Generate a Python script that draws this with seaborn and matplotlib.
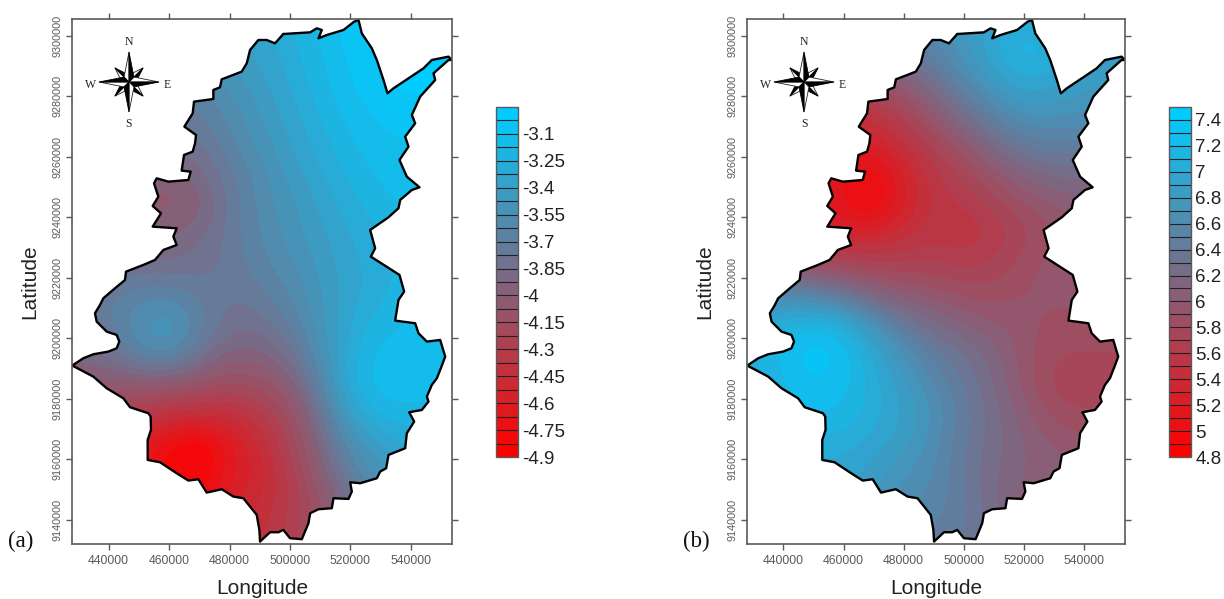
import numpy as np
import seaborn as sns
import matplotlib
matplotlib.use('Agg')
import matplotlib.pyplot as plt
from matplotlib.colors import ListedColormap, BoundaryNorm
from matplotlib.patches import Polygon
from matplotlib.cm import ScalarMappable

# Boundary of the study area
border_lon = [497800, 495070, 492300, 489550, 486800, 485700, 484030, 477420, 476860, 474660,
              474660, 468260, 467820, 465060, 468920, 468600, 467820, 464950, 464180, 467160,
              466390, 459770, 455910, 455030, 456460, 454590, 457340, 454590, 462530, 461420,
              462530, 458120, 455360, 451500, 445760, 445430, 442120, 438260,
              437160, 435500, 436060, 439370, 442670, 443550, 442670, 439920, 434950, 431640,
              428000, 434950, 439370, 444880, 447090, 453150, 453920, 454030, 452930, 452930,
              457010, 462530, 466390, 469700, 472450, 477420, 481280, 484590, 489000, 489880,
              490100, 493410, 496170, 497820, 500030,
              503920, 506120, 506680, 509430, 513840, 514400, 519360, 520460, 519910, 523220,
              528740, 529840, 531820, 532600, 538110, 538660, 541090, 539430, 543620, 545830,
              545280, 546930, 548590, 549910, 551350, 549690, 545280, 542520, 541420, 534800,
              535900, 537780, 536230, 526750, 528180, 526530, 532590, 535900, 536460, 540320,
              542850, 538660, 536230, 539210, 538110, 541420, 540320, 543070, 548040, 547490,
              552450, 553550, 552450, 546930, 544180, 534250, 532270, 530940, 528740, 527080,
              523770, 522670, 521230, 517700, 512190, 509430, 510540, 508880, 506680, 497800]
border_lat = [9300640, 9297560, 9298660, 9298660, 9295350, 9290940, 9288190, 9285650, 9283010, 9282130,
              9279150, 9278270, 9274410, 9270000, 9267250, 9264500, 9261740, 9260640, 9255460, 9255130,
              9252370, 9251820, 9252920, 9251270, 9246860, 9243780, 9241350, 9236940, 9236390, 9233640,
              9230880, 9229230, 9225930, 9224280, 9222070, 9219310, 9216560, 9213250,
              9211050, 9208290, 9205540, 9202230, 9201130, 9198930, 9196720, 9195620, 9194740, 9193420,
              9191000, 9187350, 9183500, 9180190, 9177220, 9175230, 9174130, 9169730, 9166420, 9159800,
              9159030, 9155400, 9152970, 9153410, 9149000, 9150110, 9147680, 9147130, 9141620, 9136660,
              9132800, 9135890, 9135890, 9136660, 9133910,
              9133580, 9138870, 9142170, 9143490, 9143830, 9147130, 9146910, 9149340, 9152420, 9152090,
              9153740, 9155950, 9157050, 9161460, 9163660, 9168620, 9172480, 9175560, 9176330, 9179090,
              9180740, 9184600, 9186800, 9190110, 9193970, 9199480, 9198930, 9201680, 9204990, 9205870,
              9212700, 9215460, 9220970, 9227030, 9229780, 9235840, 9240030, 9243010, 9245760, 9249070,
              9249950, 9253470, 9258980, 9263390, 9266700, 9271110, 9273860, 9279920, 9285430, 9287640,
              9292040, 9292040, 9293150, 9292040, 9289290, 9282680, 9281030, 9285430, 9292040, 9295900,
              9300860, 9305270, 9304720, 9301960, 9300310, 9299210, 9301960, 9302520, 9301190, 9300640]

# Sampled surface values, 10 km spacing: lon 430000..550000, lat 9305000 down to 9135000
values_a = [
    [-3.75, -3.7, -3.65, -3.6, -3.55, -3.45, -3.35, -3.25, -3.15, -3.05, -3.0, -3.0, -3.0],
    [-3.8, -3.75, -3.7, -3.65, -3.55, -3.45, -3.38, -3.28, -3.18, -3.08, -3.0, -3.0, -3.0],
    [-3.85, -3.8, -3.75, -3.7, -3.62, -3.52, -3.42, -3.32, -3.2, -3.1, -3.02, -3.0, -3.0],
    [-3.9, -3.85, -3.8, -3.78, -3.7, -3.6, -3.47, -3.36, -3.24, -3.14, -3.08, -3.05, -3.05],
    [-3.95, -3.9, -3.88, -3.85, -3.78, -3.65, -3.52, -3.4, -3.28, -3.18, -3.12, -3.1, -3.1],
    [-4.0, -3.98, -3.95, -3.97, -3.88, -3.72, -3.58, -3.45, -3.33, -3.23, -3.15, -3.12, -3.12],
    [-4.0, -4.0, -4.0, -4.05, -3.98, -3.76, -3.6, -3.5, -3.38, -3.27, -3.2, -3.15, -3.15],
    [-3.95, -3.95, -3.95, -3.95, -3.88, -3.75, -3.62, -3.52, -3.42, -3.32, -3.25, -3.2, -3.2],
    [-3.85, -3.85, -3.85, -3.85, -3.82, -3.75, -3.65, -3.57, -3.45, -3.35, -3.28, -3.22, -3.2],
    [-3.8, -3.72, -3.65, -3.65, -3.72, -3.78, -3.72, -3.62, -3.48, -3.36, -3.27, -3.2, -3.18],
    [-3.8, -3.7, -3.55, -3.45, -3.65, -3.82, -3.82, -3.7, -3.5, -3.32, -3.2, -3.17, -3.15],
    [-3.9, -3.82, -3.62, -3.55, -3.78, -3.95, -3.95, -3.82, -3.55, -3.28, -3.14, -3.13, -3.13],
    [-4.0, -4.05, -4.05, -4.05, -4.1, -4.15, -4.12, -4.0, -3.65, -3.25, -3.12, -3.13, -3.14],
    [-4.15, -4.2, -4.3, -4.38, -4.42, -4.42, -4.32, -4.15, -3.8, -3.38, -3.2, -3.2, -3.2],
    [-4.3, -4.4, -4.6, -4.78, -4.88, -4.65, -4.45, -4.22, -3.92, -3.55, -3.4, -3.3, -3.3],
    [-4.4, -4.5, -4.65, -4.8, -4.88, -4.62, -4.5, -4.3, -4.0, -3.7, -3.5, -3.4, -3.4],
    [-4.4, -4.5, -4.65, -4.7, -4.7, -4.55, -4.45, -4.3, -4.1, -3.85, -3.6, -3.5, -3.5],
    [-4.4, -4.45, -4.55, -4.55, -4.55, -4.5, -4.38, -4.28, -4.12, -3.95, -3.7, -3.6, -3.6],
]
values_b = [
    [6.4, 6.4, 6.4, 6.4, 6.5, 6.6, 6.7, 6.8, 6.95, 7.05, 7.0, 6.9, 6.85],
    [6.2, 6.2, 6.2, 6.2, 6.25, 6.4, 6.55, 6.75, 7.0, 7.2, 7.1, 7.0, 6.9],
    [6.0, 6.0, 6.0, 5.9, 5.9, 6.05, 6.3, 6.6, 6.85, 7.0, 6.95, 6.85, 6.8],
    [5.8, 5.7, 5.6, 5.5, 5.55, 5.75, 6.0, 6.3, 6.55, 6.75, 6.75, 6.7, 6.65],
    [5.6, 5.45, 5.4, 5.25, 5.3, 5.5, 5.75, 6.0, 6.25, 6.45, 6.5, 6.5, 6.45],
    [5.45, 5.35, 5.3, 5.1, 5.0, 5.3, 5.55, 5.75, 5.95, 6.15, 6.25, 6.25, 6.2],
    [5.45, 5.35, 5.3, 5.05, 4.9, 5.25, 5.55, 5.6, 5.75, 5.9, 6.0, 6.05, 6.05],
    [5.55, 5.45, 5.4, 5.3, 5.3, 5.45, 5.55, 5.5, 5.6, 5.75, 5.9, 6.0, 6.0],
    [5.9, 5.85, 5.8, 5.75, 5.7, 5.7, 5.7, 5.65, 5.7, 5.85, 5.95, 6.0, 6.0],
    [6.5, 6.6, 6.5, 6.3, 6.1, 6.0, 5.95, 5.85, 5.85, 5.9, 5.95, 5.95, 5.95],
    [7.0, 7.1, 7.2, 7.1, 6.7, 6.4, 6.2, 6.1, 6.0, 5.95, 5.85, 5.85, 5.85],
    [7.1, 7.25, 7.4, 7.3, 7.0, 6.7, 6.45, 6.3, 6.15, 5.95, 5.8, 5.8, 5.8],
    [7.0, 7.2, 7.3, 7.25, 7.05, 6.85, 6.6, 6.4, 6.2, 5.95, 5.75, 5.7, 5.75],
    [6.9, 7.15, 7.2, 7.2, 7.05, 6.9, 6.7, 6.45, 6.25, 6.05, 5.85, 5.8, 5.85],
    [6.8, 7.0, 7.05, 7.05, 6.95, 6.85, 6.65, 6.4, 6.25, 6.1, 6.0, 5.95, 5.9],
    [6.7, 6.9, 6.95, 6.95, 6.85, 6.7, 6.6, 6.4, 6.2, 6.1, 6.05, 6.0, 6.0],
    [6.6, 6.8, 6.85, 6.85, 6.75, 6.65, 6.55, 6.45, 6.2, 6.05, 6.0, 6.0, 6.0],
    [6.5, 6.7, 6.75, 6.75, 6.65, 6.55, 6.45, 6.4, 6.3, 6.0, 6.0, 6.0, 6.0],
]

lon_ticks = [440000, 460000, 480000, 500000, 520000, 540000]
lat_ticks = [9140000, 9160000, 9180000, 9200000, 9220000, 9240000, 9260000, 9280000, 9300000]
cbar_ticks_a = [-4.9, -4.75, -4.6, -4.45, -4.3, -4.15, -4, -3.85, -3.7, -3.55, -3.4, -3.25, -3.1]
cbar_ticks_b = [4.8, 5, 5.2, 5.4, 5.6, 5.8, 6, 6.2, 6.4, 6.6, 6.8, 7, 7.2, 7.4]

W, H = 1224, 599
sns.set_style('white')
plt.rcParams['font.family'] = ['Liberation Sans', 'DejaVu Sans']
SERIF = 'Liberation Serif'
GREY = '#5a5a5a'

fig = plt.figure(figsize=(W / 100, H / 100), dpi=100)


def box(x0, y0, x1, y1):
    # pixel box (y from the top) to figure fractions
    return [x0 / W, 1 - y1 / H, (x1 - x0) / W, (y1 - y0) / H]


def draw_rose(x, y):
    # compass rose centred on pixel x, y
    rose = fig.add_axes(box(x - 50, y - 50, x + 50, y + 50))
    rose.set_xlim(-50, 50)
    rose.set_ylim(-50, 50)
    rose.axis('off')
    for deg, length in [(45, 20), (135, 20), (225, 20), (315, 20), (0, 30), (90, 30), (180, 30), (270, 30)]:
        a = np.radians(deg)
        tip = (length * np.cos(a), length * np.sin(a))
        side1 = (7 * np.cos(a + 0.785), 7 * np.sin(a + 0.785))
        side2 = (7 * np.cos(a - 0.785), 7 * np.sin(a - 0.785))
        rose.add_patch(Polygon([(0, 0), tip, side1], fc='white', ec='#222222', lw=0.6))
        rose.add_patch(Polygon([(0, 0), tip, side2], fc='black', ec='black', lw=0.6))
    for label, lx, ly in [('N', 0, 40), ('S', 0, -42), ('W', -38, -3), ('E', 38, -3)]:
        rose.text(lx, ly, label, family=SERIF, fontsize=8.5, color='#222222', ha='center', va='center')


def draw_panel(left, right, cbar_left, values, levels, ticks, letter, letter_x):
    ax = fig.add_axes(box(left, 19, right, 544))
    colors = sns.blend_palette(['#ff0000', '#00ccff'], len(levels) - 1)
    cmap = ListedColormap(colors)
    norm = BoundaryNorm(levels, cmap.N, clip=True)
    im = ax.imshow(values, extent=(425000, 555000, 9130000, 9310000), origin='upper', aspect='auto',
                   cmap=cmap, norm=norm, interpolation='bicubic', interpolation_stage='data')
    outline = Polygon(np.column_stack([border_lon, border_lat]), transform=ax.transData)
    im.set_clip_path(outline)
    sns.lineplot(x=border_lon, y=border_lat, sort=False, estimator=None, color='black', lw=1.7, ax=ax)
    ax.set_xlim(427900, 553600)
    ax.set_ylim(9132000, 9305600)
    ax.set_xticks(lon_ticks, [str(v) for v in lon_ticks])
    ax.set_yticks(lat_ticks, [str(v) for v in lat_ticks], rotation=90, va='center')
    ax.tick_params(direction='out', length=4.5, width=1, color=GREY, top=True, right=True, bottom=True,
                   left=True, labelcolor=GREY)
    ax.tick_params(axis='x', labelsize=8.8, pad=3.5)
    ax.tick_params(axis='y', labelsize=7.8, pad=2)
    for s in ax.spines.values():
        s.set_color(GREY)
        s.set_linewidth(1.2)
    ax.set_xlabel('Longitude', fontsize=15, color='#222222')
    ax.set_ylabel('Latitude', fontsize=15, color='#222222')
    ax.xaxis.set_label_coords(0.5, -44 / 525, transform=ax.transAxes)
    ax.yaxis.set_label_coords(-42 / (right - left), 0.5, transform=ax.transAxes)
    ax.xaxis.label.set_va('center')
    ax.yaxis.label.set_va('center')

    cax = fig.add_axes(box(cbar_left, 107, cbar_left + 22, 457))
    cb = fig.colorbar(ScalarMappable(norm=norm, cmap=cmap), cax=cax, spacing='proportional', drawedges=True)
    cb.set_ticks(ticks)
    cb.set_ticklabels([str(t) for t in ticks])
    cb.ax.tick_params(length=0, labelsize=13.5, labelcolor='#222222', pad=3)
    cb.ax.minorticks_off()
    cb.dividers.set_color('#222222')
    cb.dividers.set_linewidth(0.8)
    cb.outline.set_edgecolor(GREY)
    cb.outline.set_linewidth(1.0)

    fig.text(letter_x / W, 1 - 541 / H, letter, family=SERIF, fontsize=16.5, color='#111111', ha='left', va='center')
    draw_rose(left + 57, 82)


levels_a = np.linspace(-4.9, -2.95, 27)
levels_b = np.linspace(4.8, 7.5, 28)
draw_panel(72, 452, 496, values_a, levels_a, cbar_ticks_a, '(a)', 8)
draw_panel(747, 1125, 1169, values_b, levels_b, cbar_ticks_b, '(b)', 683)

fig.savefig('out.png', dpi=100, facecolor='white')
